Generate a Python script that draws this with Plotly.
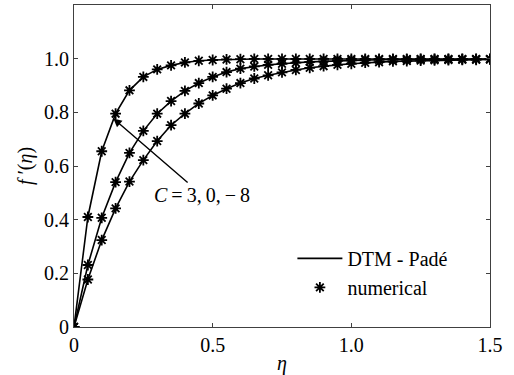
import plotly.graph_objects as go

eta = [0.00, 0.05, 0.10, 0.15, 0.20, 0.25, 0.30, 0.35, 0.40, 0.45, 0.50,
       0.55, 0.60, 0.65, 0.70, 0.75, 0.80, 0.85, 0.90, 0.95, 1.00,
       1.05, 1.10, 1.15, 1.20, 1.25, 1.30, 1.35, 1.40, 1.45, 1.50]

fp_c3 = [0.000, 0.410, 0.655, 0.795, 0.882, 0.932, 0.960, 0.975, 0.986, 0.992, 0.995,
         0.997, 0.998, 0.999, 0.999, 0.999, 0.999, 0.999, 0.999, 0.999, 0.999,
         0.999, 0.999, 0.999, 0.999, 0.999, 0.999, 0.999, 0.999, 0.999, 0.999]

fp_c0 = [0.000, 0.231, 0.407, 0.540, 0.649, 0.731, 0.795, 0.842, 0.880, 0.909, 0.932,
         0.950, 0.963, 0.971, 0.977, 0.981, 0.985, 0.988, 0.990, 0.992, 0.994,
         0.995, 0.996, 0.997, 0.997, 0.998, 0.998, 0.998, 0.998, 0.998, 0.998]

fp_cm8 = [0.000, 0.177, 0.324, 0.442, 0.542, 0.622, 0.693, 0.752, 0.795, 0.833, 0.863,
          0.888, 0.909, 0.926, 0.938, 0.949, 0.958, 0.966, 0.972, 0.977, 0.981,
          0.985, 0.987, 0.990, 0.991, 0.993, 0.994, 0.995, 0.996, 0.996, 0.997]

series = [fp_c3, fp_c0, fp_cm8]

x_ticks = [0, 0.5, 1.0, 1.5]
x_tick_labels = ["0", "0.5", "1.0", "1.5"]
y_ticks = [0, 0.2, 0.4, 0.6, 0.8, 1.0]
y_tick_labels = ["0", "0.2", "0.4", "0.6", "0.8", "1.0"]

FONT = "Liberation Serif, Times New Roman, serif"
AX = "#404040"

fig = go.Figure()
for i, ys in enumerate(series):
    fig.add_trace(go.Scatter(
        x=eta, y=ys, mode="lines",
        line=dict(color="black", width=1.6),
        name="DTM - Padé", showlegend=(i == 0), legendrank=1,
    ))
for i, ys in enumerate(series):
    fig.add_trace(go.Scatter(
        x=eta, y=ys, mode="markers",
        marker=dict(symbol="asterisk-open", size=9, color="black",
                    line=dict(color="black", width=1.8)),
        name="numerical", showlegend=(i == 0), legendrank=2,
    ))

fig.add_annotation(
    x=0.142, y=0.777, xref="x", yref="y",
    ax=0.462, ay=0.492, axref="x", ayref="y",
    text="<i>C</i>\u2009=\u20093,\u20090,\u2009\u2212\u20098",
    showarrow=True, arrowhead=2, arrowsize=1.2, arrowwidth=1.4,
    arrowcolor="black", font=dict(family=FONT, size=20, color="black"),
)

axis_common = dict(
    showline=True, linecolor=AX, linewidth=1, mirror="ticks",
    ticks="inside", ticklen=4, tickcolor=AX, showgrid=False, zeroline=False,
    tickfont=dict(family=FONT, size=20, color="black"),
)

fig.update_layout(
    width=514, height=375,
    margin=dict(l=74, r=24, t=5, b=48),
    plot_bgcolor="white", paper_bgcolor="white",
    font=dict(family=FONT, size=20, color="black"),
    xaxis=dict(range=[0, 1.5], tickvals=x_ticks, ticktext=x_tick_labels,
               title=dict(text="<i>η</i>", standoff=0,
                          font=dict(family=FONT, size=20)),
               **axis_common),
    yaxis=dict(range=[0, 1.2], tickvals=y_ticks, ticktext=y_tick_labels,
               title=dict(text="<i>f</i> ′(<i>η</i>)", standoff=6,
                          font=dict(family=FONT, size=20)),
               **axis_common),
    legend=dict(x=0.525, y=0.168, xanchor="left", yanchor="middle",
                bgcolor="rgba(0,0,0,0)", font=dict(family=FONT, size=20),
                itemwidth=45, tracegroupgap=0),
)

fig.write_html("out.html",
               config=dict(displayModeBar=False),
               post_script="document.body.style.margin='0';document.body.style.padding='0';")
